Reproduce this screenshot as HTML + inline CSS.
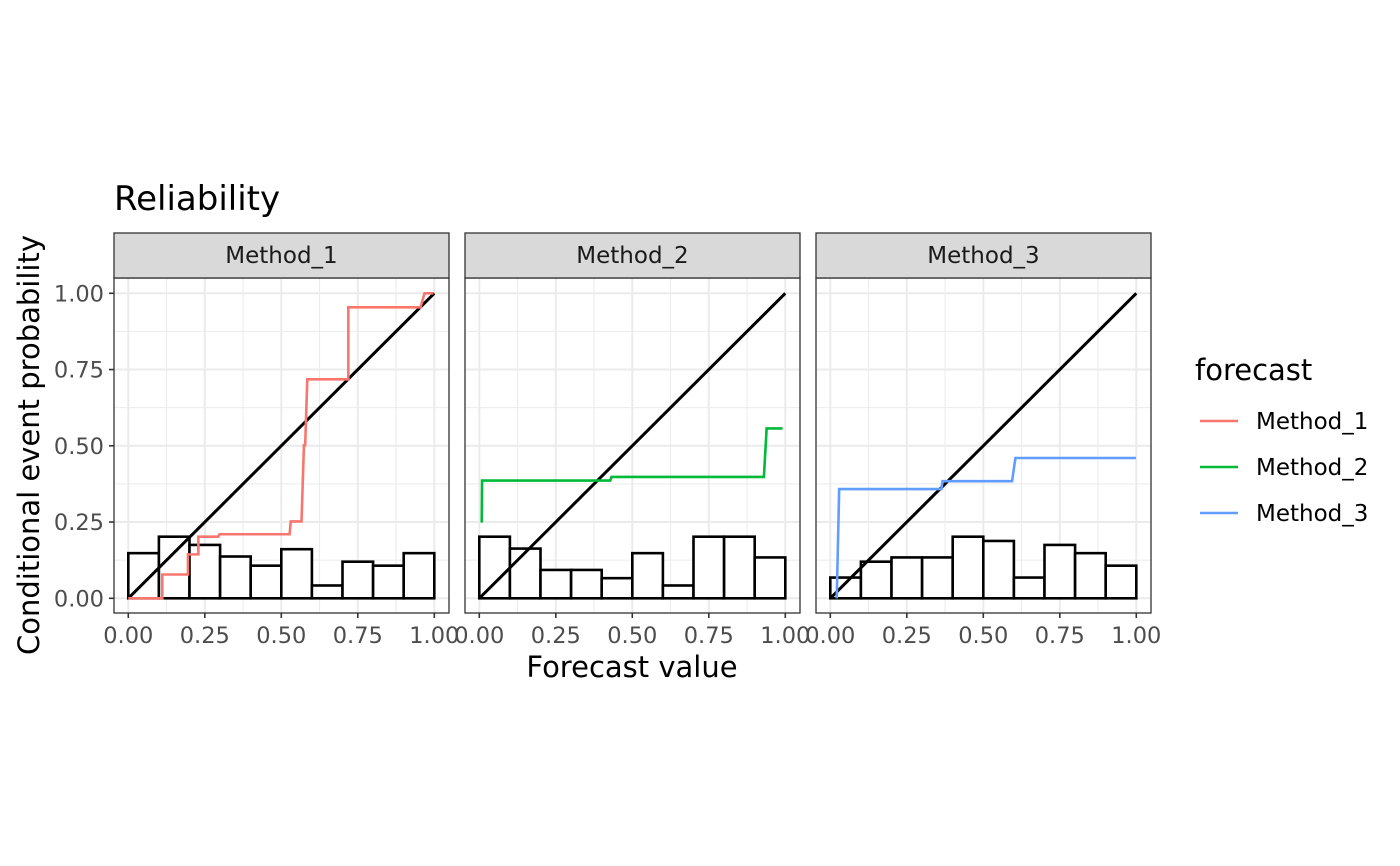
<!DOCTYPE html>
<html><head><meta charset="utf-8"><style>
body{margin:0;background:#fff}
svg{display:block;font-family:"DejaVu Sans","Liberation Sans",sans-serif}
</style></head><body>
<svg id="chart" width="1400" height="866" xmlns="http://www.w3.org/2000/svg">
<text x="114" y="210" font-size="34" fill="#000">Reliability</text>
<text transform="translate(39,445) rotate(-90)" text-anchor="middle" font-size="29">Conditional event probability</text>
<text x="632" y="677" text-anchor="middle" font-size="29">Forecast value</text>
<g>
<text x="1195" y="380" font-size="29">forecast</text>
</g>
</svg>
<script>
const methods = ["Method_1","Method_2","Method_3"];
const colors = ["#F8766D","#00BA38","#619CFF"];
const line1X = [0,0.111,0.111,0.195,0.195,0.229,0.229,0.294,0.298,0.527,0.531,0.566,0.574,0.578,0.585,0.719,0.719,0.955,0.968,0.997];
const line1Y = [0,0,0.078,0.078,0.144,0.144,0.202,0.202,0.21,0.21,0.252,0.252,0.502,0.502,0.718,0.718,0.954,0.954,1.0,1.0];
const line2X = [0.008,0.009,0.428,0.432,0.930,0.939,0.991];
const line2Y = [0.248,0.386,0.386,0.398,0.398,0.557,0.557];
const line3X = [0.021,0.029,0.363,0.367,0.594,0.605,0.999];
const line3Y = [0,0.358,0.358,0.384,0.384,0.46,0.46];
const hist1 = [0.148,0.202,0.175,0.137,0.107,0.161,0.042,0.120,0.107,0.148];
const hist2 = [0.202,0.163,0.093,0.093,0.066,0.148,0.042,0.202,0.202,0.134];
const hist3 = [0.068,0.120,0.134,0.134,0.202,0.188,0.068,0.175,0.148,0.107];
const tickVals = [0,0.25,0.5,0.75,1];
const tickLabels = ["0.00","0.25","0.50","0.75","1.00"];

const NS="http://www.w3.org/2000/svg";
const svg=document.getElementById('chart');
function mk(tag,attrs,parent){const e=document.createElementNS(NS,tag);for(const k in attrs)e.setAttribute(k,attrs[k]);(parent||svg).appendChild(e);return e;}
const lines=[[line1X,line1Y],[line2X,line2Y],[line3X,line3Y]];
const hists=[hist1,hist2,hist3];
const panelLeft=[114,465,816], PW=335, PT=278, PB=613;
const sy=v=>598.3-v*305;
methods.forEach((m,i)=>{
  const L=panelLeft[i];
  const sx=v=>L+14.3+v*306;
  const g=mk('g',{});
  
  
  mk('rect',{x:L,y:PT,width:PW,height:PB-PT,fill:'#fff'},g);
  for(let k=0;k<4;k++){const v=0.125+k*0.25;
    mk('line',{x1:sx(v),x2:sx(v),y1:PT,y2:PB,stroke:'#EBEBEB','stroke-width':1},g);
    mk('line',{x1:L,x2:L+PW,y1:sy(v),y2:sy(v),stroke:'#EBEBEB','stroke-width':1},g);}
  tickVals.forEach((v,k)=>{
    mk('line',{x1:sx(v),x2:sx(v),y1:PT,y2:PB,stroke:'#EBEBEB','stroke-width':2},g);
    mk('line',{x1:L,x2:L+PW,y1:sy(v),y2:sy(v),stroke:'#EBEBEB','stroke-width':2},g);
    mk('line',{x1:sx(v),x2:sx(v),y1:PB,y2:PB+5,stroke:'#333','stroke-width':1.6},g);
    const t=mk('text',{x:sx(v),y:PB+30,'text-anchor':'middle','font-size':22.5,fill:'#4D4D4D'},g);
    t.textContent=tickLabels[k];
    
    
  });
  const h=hists[i];
  h.forEach((v,k)=>{
    const r=mk('rect',{x:sx(k*0.1),y:sy(v),width:sx((k+1)*0.1)-sx(k*0.1),height:sy(0)-sy(v),fill:'#fff',stroke:'#000','stroke-width':2.6},g);
    
    
  });
  const d=mk('line',{x1:sx(0),y1:sy(0),x2:sx(1),y2:sy(1),stroke:'#000','stroke-width':3},g);
  
  
  const [xs,ys]=lines[i];
  const p=mk('polyline',{points:xs.map((x,k)=>sx(x)+','+sy(ys[k])).join(' '),fill:'none',stroke:colors[i],'stroke-width':2.6},g);
  
  
  mk('rect',{x:L,y:PT,width:PW,height:PB-PT,fill:'none',stroke:'#333','stroke-width':1.3},g);
  const s=mk('rect',{x:L,y:233,width:PW,height:PT-233,fill:'#D9D9D9',stroke:'#333','stroke-width':1.3},g);
  
  
  const st=mk('text',{x:L+PW/2,y:263,'text-anchor':'middle','font-size':23,fill:'#1A1A1A'},g);
  st.textContent=m;
  
  
});
tickVals.forEach((v,k)=>{
  mk('line',{x1:109,x2:114,y1:sy(v),y2:sy(v),stroke:'#333','stroke-width':1.6});
  const t=mk('text',{x:104,y:sy(v)+8,'text-anchor':'end','font-size':22.5,fill:'#4D4D4D'});
  t.textContent=tickLabels[k];
  
  
});
methods.forEach((m,i)=>{
  const y=421+i*46;
  const l=mk('line',{x1:1200,x2:1238,y1:y,y2:y,stroke:colors[i],'stroke-width':2.4});
  
  
  const t=mk('text',{x:1256,y:y+8,'font-size':23,fill:'#000'});
  t.textContent=m;
  
  
});
</script>
</body></html>
